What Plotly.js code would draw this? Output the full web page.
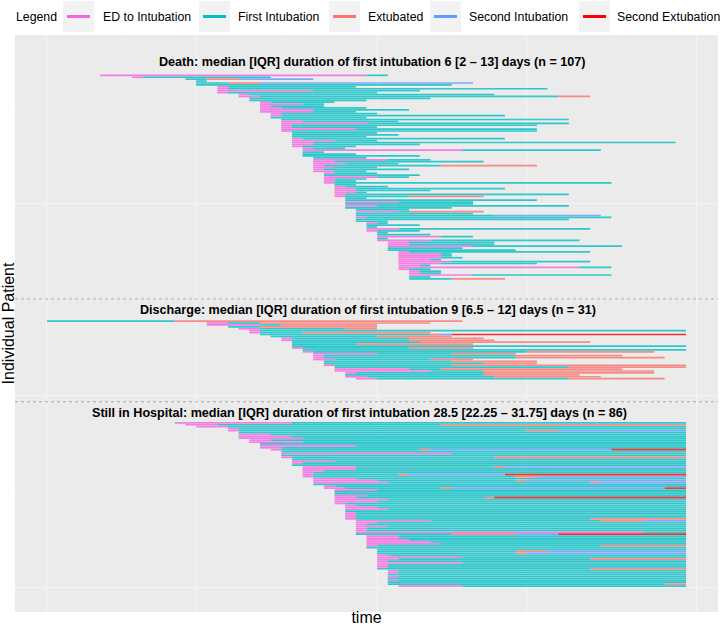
<!DOCTYPE html>
<html><head><meta charset="utf-8">
<script src="https://cdn.plot.ly/plotly-3.0.1.min.js"></script>
<style>html,body{margin:0;padding:0;background:#fff}#chart{width:720px;height:626px}</style>
</head><body><div id="chart"></div>
<script>
// ===== DATA (days since 2020-03-01) =====
const legendLabels = ["ED to Intubation", "First Intubation", "Extubated", "Second Intubation", "Second Extubation"];
const stateColors  = ["#F564E3", "#00BFC4", "#F8766D", "#619CFF", "#FF0000"];
const groupTitles = [
  "Death: median [IQR] duration of first intubation 6 [2 – 13] days (n = 107)",
  "Discharge: median [IQR] duration of first intubation 9 [6.5 – 12] days (n = 31)",
  "Still in Hospital: median [IQR] duration of first intubation 28.5 [22.25 – 31.75] days (n = 86)"
];

// --- Death (n = 107) ---
const deathED = [5,8,13,14,14,14,16,16,16,16,18,18,19,19,20,20,20,20,20,20,21,21,21,22,22,22,22,22,22,22,23,23,23,23,23,23,23,23,24,24,24,24,24,25,25,25,25,25,25,25,25,26,26,26,26,26,26,27,27,27,27,27,27,27,28,28,28,28,28,28,29,29,29,29,29,29,29,30,30,30,30,30,31,31,31,31,31,32,32,32,32,32,33,33,33,33,33,33,33,33,33,33,34,34,34,34,34];
const deathIntub = [30,9,13,14,14,14,17,17,25,17,19,20,19,19,21,24,21,22,25,25,22,22,21,22,24,30,23,23,29,23,23,23,23,24,27,25,25,24,25,39,24,24,24,25,32,27,28,26,27,26,27,27,26,31,27,27,27,27,28,29,29,29,28,28,28,28,33,28,31,28,29,33,29,29,30,29,29,31,30,30,33,31,31,31,37,31,36,34,34,40,32,32,34,37,37,37,36,38,37,35,50,34,35,35,40,34,34];
const deathEnd = [32,21,25,15,40,38,29,47,35,31,42,51,36,30,27,26,26,30,34,29,31,43,30,49,33,49,46,31,46,46,31,33,30,43,31,59,35,29,28,52,26,29,35,30,36,41,33,46,31,34,30,31,35,34,30,29,53,29,32,43,36,30,49,41,30,46,40,40,49,38,34,41,40,52,53,49,32,32,35,31,51,35,32,36,40,32,50,42,42,54,39,44,51,38,38,39,37,51,46,36,53,36,37,37,53,36,43];
const deathExtubRows = [2,4,11,47,63,71,73,106];
const deathExtubDays = [15,17,48,37,34,34,42,38];
const deathReintRows = [2,4,73];
const deathReintDays = [18,20,42];
const deathReextRows = [];
const deathReextDays = [];

// --- Discharge (n = 31) ---
const dischargeED = [0,15,15,17,18,19,19,20,21,22,22,23,23,23,23,24,24,25,25,25,25,26,26,26,27,27,27,28,28,28,29];
const dischargeIntub = [0,17,20,17,20,20,20,20,21,23,23,23,23,23,24,24,25,31,26,26,27,26,26,27,27,34,36,29,28,30,31];
const dischargeEnd = [39,36,31,31,31,60,36,60,38,41,42,51,40,60,40,60,57,44,54,58,40,46,46,60,60,54,57,57,50,52,58];
const dischargeExtubRows = [0,1,2,3,4,6,7,8,9,10,11,12,14,16,17,18,19,20,21,22,23,24,25,26,27,28,29,30];
const dischargeExtubDays = [12,20,22,20,28,24,36,31,34,34,35,29,34,45,38,44,44,36,38,41,38,49,37,41,41,41,42,49];
const dischargeReintRows = [7];
const dischargeReintDays = [37];
const dischargeReextRows = [7];
const dischargeReextDays = [38];

// --- Still in Hospital (n = 86) ---
const hospitalED = [12,13,14,17,17,18,18,18,18,19,19,20,20,20,21,22,22,22,22,23,23,23,23,24,24,24,24,24,24,25,25,25,25,26,26,27,27,27,27,27,27,27,27,28,28,28,28,28,28,28,28,29,29,29,29,29,29,29,29,30,30,30,30,30,30,30,31,31,31,31,31,31,31,31,31,31,31,32,32,32,32,32,32,32,32,33];
const hospitalIntub = [23,16,17,18,18,18,21,23,24,21,24,20,29,22,22,22,38,22,23,23,27,24,23,29,29,26,25,25,25,29,31,32,25,27,28,31,27,27,30,29,32,31,28,29,31,32,28,29,29,29,29,36,31,30,32,30,30,56,29,33,33,34,36,37,31,30,31,31,31,32,39,33,32,39,32,32,31,33,33,32,33,32,33,32,32,39];
const hospitalCutoffDay = 60;   // data cut-off (still in hospital)
const hospitalExtubRows = [1,4,14,18,23,27,28,30,31,34,39,50,51,58,64,67,68,71,76,84];
const hospitalExtubDays = [37,45,35,42,42,33,44,44,51,37,41,51,52,38,52,44,44,51,51,58];
const hospitalReintRows = [4,14,23,27,28,30,31,34,39,51,58,67,68];
const hospitalReintDays = [48,36,43,34,46,45,52,38,42,56,44,47,45];
const hospitalReextRows = [14,27,34,39,58];
const hospitalReextDays = [53,43,58,42,48];

// ===== LAYOUT CONSTANTS =====
const L = 15, R = 2, T = 35, B = 14, WIDTH = 720, HEIGHT = 626;
const plotW = WIDTH - L - R, plotH = HEIGHT - T - B;
const ROW_PX = 1.92;
const groupRowStart = [21, 149, 202];     // y position (row units) of each group's first row
const groupTitleY = [14, 143.2, 197];
const groupTitleX = [30.6, 30.1, 29.3];
const separatorsY = [137.5, 191];
const FONT = "Liberation Sans, Arial, Helvetica, sans-serif";

function lookup(rows, days) { const m = {}; rows.forEach((r, k) => m[r] = days[k]); return m; }

const groups = [
  {ed: deathED, intub: deathIntub, end: i => deathEnd[i],
   ex: lookup(deathExtubRows, deathExtubDays), ri: lookup(deathReintRows, deathReintDays), re: lookup(deathReextRows, deathReextDays)},
  {ed: dischargeED, intub: dischargeIntub, end: i => dischargeEnd[i],
   ex: lookup(dischargeExtubRows, dischargeExtubDays), ri: lookup(dischargeReintRows, dischargeReintDays), re: lookup(dischargeReextRows, dischargeReextDays)},
  {ed: hospitalED, intub: hospitalIntub, end: i => hospitalCutoffDay,
   ex: lookup(hospitalExtubRows, hospitalExtubDays), ri: lookup(hospitalReintRows, hospitalReintDays), re: lookup(hospitalReextRows, hospitalReextDays)}
];

const segX = [[],[],[],[],[]], segY = [[],[],[],[],[]];
function seg(k, a, b, y) { if (b > a) { segX[k].push(a, b, null); segY[k].push(y, y, null); } }

groups.forEach((g, gi) => {
  g.ed.forEach((ed, i) => {
    const y = groupRowStart[gi] + i;
    const i1 = g.intub[i], end = g.end(i);
    const ex = g.ex[i], ri = g.ri[i], re = g.re[i];
    seg(0, ed, i1, y);
    seg(1, i1, ex !== undefined ? ex : end, y);
    if (ex !== undefined) {
      seg(2, ex, ri !== undefined ? ri : end, y);
      if (ri !== undefined) {
        seg(3, ri, re !== undefined ? re : end, y);
        if (re !== undefined) seg(4, re, end, y);
      }
    }
  });
});

const traces = legendLabels.map((name, k) => ({
  type: "scatter", mode: "lines", name: name,
  x: segX[k], y: segY[k],
  line: {color: stateColors[k], width: 1.7},
  opacity: 0.8, hoverinfo: "skip", showlegend: false
}));

// pixel -> paper helpers for the manual legend
const px2x = px => (px - L) / plotW;
const py2y = py => (HEIGHT - B - py) / plotH;

const shapes = [];
separatorsY.forEach(v => shapes.push({type: "line", xref: "paper", yref: "y", x0: 0, x1: 1, y0: v, y1: v,
  line: {color: "#7f7f7f", width: 0.6, dash: "dot"}, layer: "above"}));

const legendKeyX = [63, 199, 329, 430, 579];
const legendTextX = [101, 236, 366, 467, 615];
const annotations = [];
legendKeyX.forEach((kx, k) => {
  shapes.push({type: "rect", xref: "paper", yref: "paper", x0: px2x(kx), x1: px2x(kx + 31), y0: py2y(32), y1: py2y(1),
    fillcolor: "#F2F2F2", line: {width: 0}});
  shapes.push({type: "line", xref: "paper", yref: "paper", x0: px2x(kx + 4), x1: px2x(kx + 27), y0: py2y(16.5), y1: py2y(16.5),
    line: {color: stateColors[k], width: 3}});
  annotations.push({xref: "paper", yref: "paper", x: px2x(legendTextX[k]), y: py2y(16.5), xanchor: "left", yanchor: "middle",
    text: legendLabels[k], showarrow: false, font: {family: FONT, size: 12.3, color: "#000"}});
});
annotations.push({xref: "paper", yref: "paper", x: px2x(14), y: py2y(16.5), xanchor: "left", yanchor: "middle",
  text: "Legend", showarrow: false, font: {family: FONT, size: 12.3, color: "#000"}});

groupTitles.forEach((t, gi) => annotations.push({xref: "x", yref: "y", x: groupTitleX[gi], y: groupTitleY[gi],
  xanchor: "center", yanchor: "middle", text: "<b>" + t + "</b>", showarrow: false,
  font: {family: FONT, size: 12.6, color: "#000"}}));

const GRID_MAJOR = "#F5F5F5", GRID_MINOR = "#F0F0F0";
const layout = {
  width: WIDTH, height: HEIGHT,
  margin: {l: L, r: R, t: T, b: B, pad: 0},
  paper_bgcolor: "#FFFFFF", plot_bgcolor: "#EBEBEB",
  font: {family: FONT, color: "#000"},
  showlegend: false,
  xaxis: {
    range: [-3, 63], tickmode: "array", tickvals: [0, 14, 31, 45, 61],
    showticklabels: false, ticks: "", showgrid: true, gridcolor: GRID_MAJOR, gridwidth: 1,
    minor: {tickmode: "array", tickvals: [7, 22.5, 38, 53], showgrid: true, gridcolor: GRID_MINOR, gridwidth: 0.6, ticks: ""},
    zeroline: false, showline: false, fixedrange: true, automargin: false,
    title: {text: "time", font: {family: FONT, size: 16, color: "#000"}, standoff: 0}
  },
  yaxis: {
    range: [plotH / ROW_PX, 0], tickmode: "array", tickvals: [88, 188, 288],
    showticklabels: false, ticks: "", showgrid: true, gridcolor: GRID_MAJOR, gridwidth: 1,
    minor: {tickmode: "array", tickvals: [38, 138, 238], showgrid: true, gridcolor: GRID_MINOR, gridwidth: 0.6, ticks: ""},
    zeroline: false, showline: false, fixedrange: true, automargin: false,
    title: {text: "Individual Patient", font: {family: FONT, size: 16, color: "#000"}, standoff: 0}
  },
  shapes: shapes,
  annotations: annotations
};

Plotly.newPlot("chart", traces, layout, {staticPlot: true, displayModeBar: false});
</script>
</body></html>
